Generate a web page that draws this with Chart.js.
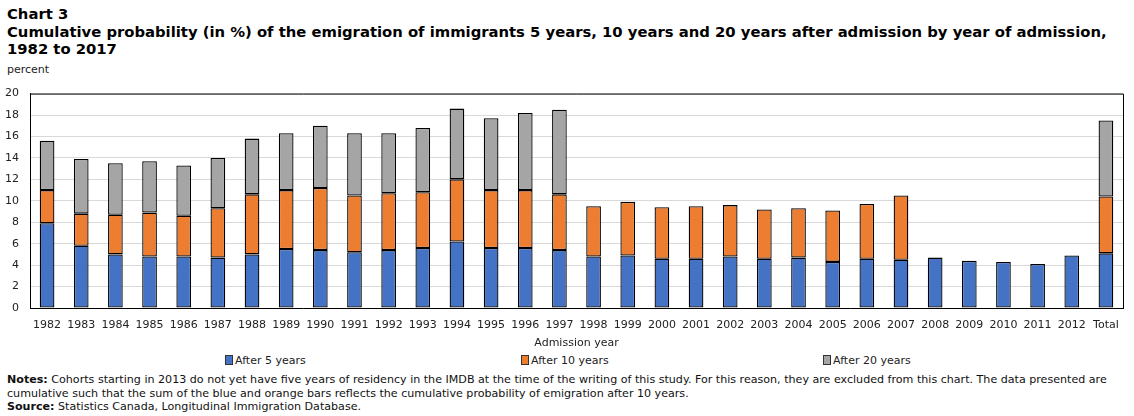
<!DOCTYPE html>
<html>
<head>
<meta charset="utf-8">
<script src="https://cdn.jsdelivr.net/npm/chart.js@4/dist/chart.umd.min.js"></script>
<style>
  body { margin: 0; width: 1134px; height: 416px; position: relative; background: #fff; overflow: hidden;
         font-family: "DejaVu Sans", Verdana, sans-serif; color: #000; }
  #title { position: absolute; left: 7px; top: 5px; font-weight: bold; font-size: 14.8px; line-height: 17.5px; }
  #unit { position: absolute; left: 7px; top: 63px; font-size: 11px; color: #222; }
  #wrap { position: absolute; left: 0; top: 76px; width: 1134px; height: 274px; }
  .leg { position: absolute; top: 354px; font-size: 11px; color: #222; white-space: nowrap; }
  .leg i { display: inline-block; width: 6px; height: 8px; border: 1px solid #333; margin-right: 2px; vertical-align: -1px; }
  #notes { position: absolute; left: 7px; top: 373px; font-size: 11.1px; line-height: 13.5px; color: #111; }
</style>
</head>
<body>
<div id="title">Chart 3<br>Cumulative probability (in %) of the emigration of immigrants 5 years, 10 years and 20 years after admission by year of admission,<br>1982 to 2017</div>
<div id="unit">percent</div>
<div id="wrap"><canvas id="chart"></canvas></div>
<div class="leg" style="left:225px"><i style="background:#4472c4"></i>After 5 years</div>
<div class="leg" style="left:521px"><i style="background:#ed7d31"></i>After 10 years</div>
<div class="leg" style="left:823px"><i style="background:#a5a5a5"></i>After 20 years</div>
<div id="notes"><b>Notes:</b> Cohorts starting in 2013 do not yet have five years of residency in the IMDB at the time of the writing of this study. For this reason, they are excluded from this chart. The data presented are<br>cumulative such that the sum of the blue and orange bars reflects the cumulative probability of emigration after 10 years.<br><b>Source:</b> Statistics Canada, Longitudinal Immigration Database.</div>

<script>
const years = ['1982', '1983', '1984', '1985', '1986', '1987', '1988', '1989', '1990', '1991',
    '1992', '1993', '1994', '1995', '1996', '1997', '1998', '1999', '2000', '2001', '2002',
    '2003', '2004', '2005', '2006', '2007', '2008', '2009', '2010', '2011', '2012', 'Total']

// stacked segments: blue = after 5 years, orange = added by 10 years, grey = added by 20 years
const after5 = [7.9, 5.8, 5.0, 4.8, 4.8, 4.7, 5.0, 5.5, 5.4, 5.2,
    5.4, 5.6, 6.2, 5.6, 5.6, 5.4, 4.8, 4.9, 4.6, 4.6, 4.8,
    4.6, 4.7, 4.3, 4.6, 4.5, 4.7, 4.4, 4.3, 4.1, 4.9, 5.1]
const after10 = [3.1, 3.0, 3.7, 4.1, 3.8, 4.6, 5.6, 5.5, 5.8, 5.3,
    5.3, 5.2, 5.8, 5.4, 5.4, 5.2, 4.7, 5.0, 4.8, 4.9, 4.8,
    4.6, 4.6, 4.8, 5.1, 6.0, null, null, null, null, null, 5.3]
const after20 = [4.6, 5.1, 4.8, 4.8, 4.7, 4.7, 5.2, 5.3, 5.8, 5.8,
    5.6, 6.0, 6.6, 6.7, 7.2, 7.9, null, null, null, null, null,
    null, null, null, null, null, null, null, null, null, null, 7.1]

const yTicks = [0, 2, 4, 6, 8, 10, 12, 14, 16, 18, 20]

// top and right edges of the plot box
const frame = {
    id: 'frame',
    afterDatasetsDraw(chart) {
        const a = chart.chartArea
        const ctx = chart.ctx
        ctx.save()
        ctx.strokeStyle = '#000'
        ctx.lineWidth = 1
        ctx.beginPath()
        ctx.moveTo(a.left, a.top + 0.5)
        ctx.lineTo(a.right + 0.5, a.top + 0.5)
        ctx.lineTo(a.right + 0.5, a.bottom)
        ctx.stroke()
        ctx.restore()
    }
}

function bars(label, data, color) {
    return {
        label: label,
        data: data,
        backgroundColor: color,
        borderColor: '#000000',
        borderWidth: 1.3,
        borderSkipped: false,
        inflateAmount: 0,
        barPercentage: 0.43,
        categoryPercentage: 1
    }
}

const font = { family: '"DejaVu Sans", Verdana, sans-serif', size: 11 }

new Chart(document.getElementById('chart'), {
    type: 'bar',
    data: {
        labels: years,
        datasets: [
            bars('After 5 years', after5, '#4472c4'),
            bars('After 10 years', after10, '#ed7d31'),
            bars('After 20 years', after20, '#a5a5a5')
        ]
    },
    options: {
        responsive: true,
        maintainAspectRatio: false,
        animation: false,
        layout: { padding: { top: 9, right: 11, left: 0, bottom: 0 } },
        plugins: { legend: { display: false }, tooltip: { enabled: false } },
        scales: {
            x: {
                stacked: true,
                grid: { display: false },
                border: { color: '#000', width: 1 },
                ticks: { font: font, color: '#222', padding: 3, maxRotation: 0, autoSkip: false },
                title: { display: true, text: 'Admission year', font: font, color: '#222', padding: { top: 4, bottom: 0 } },
                afterFit: s => { s.height = 42 }
            },
            y: {
                stacked: true,
                min: 0,
                max: 20,
                afterBuildTicks: s => { s.ticks = yTicks.map(v => ({ value: v })) },
                ticks: { font: font, color: '#222', padding: 11 },
                grid: { color: '#d9d9d9', drawTicks: false },
                border: { color: '#000', width: 1 },
                afterFit: s => { s.width = 30 }
            }
        }
    },
    plugins: [frame]
})
</script>
</body>
</html>
